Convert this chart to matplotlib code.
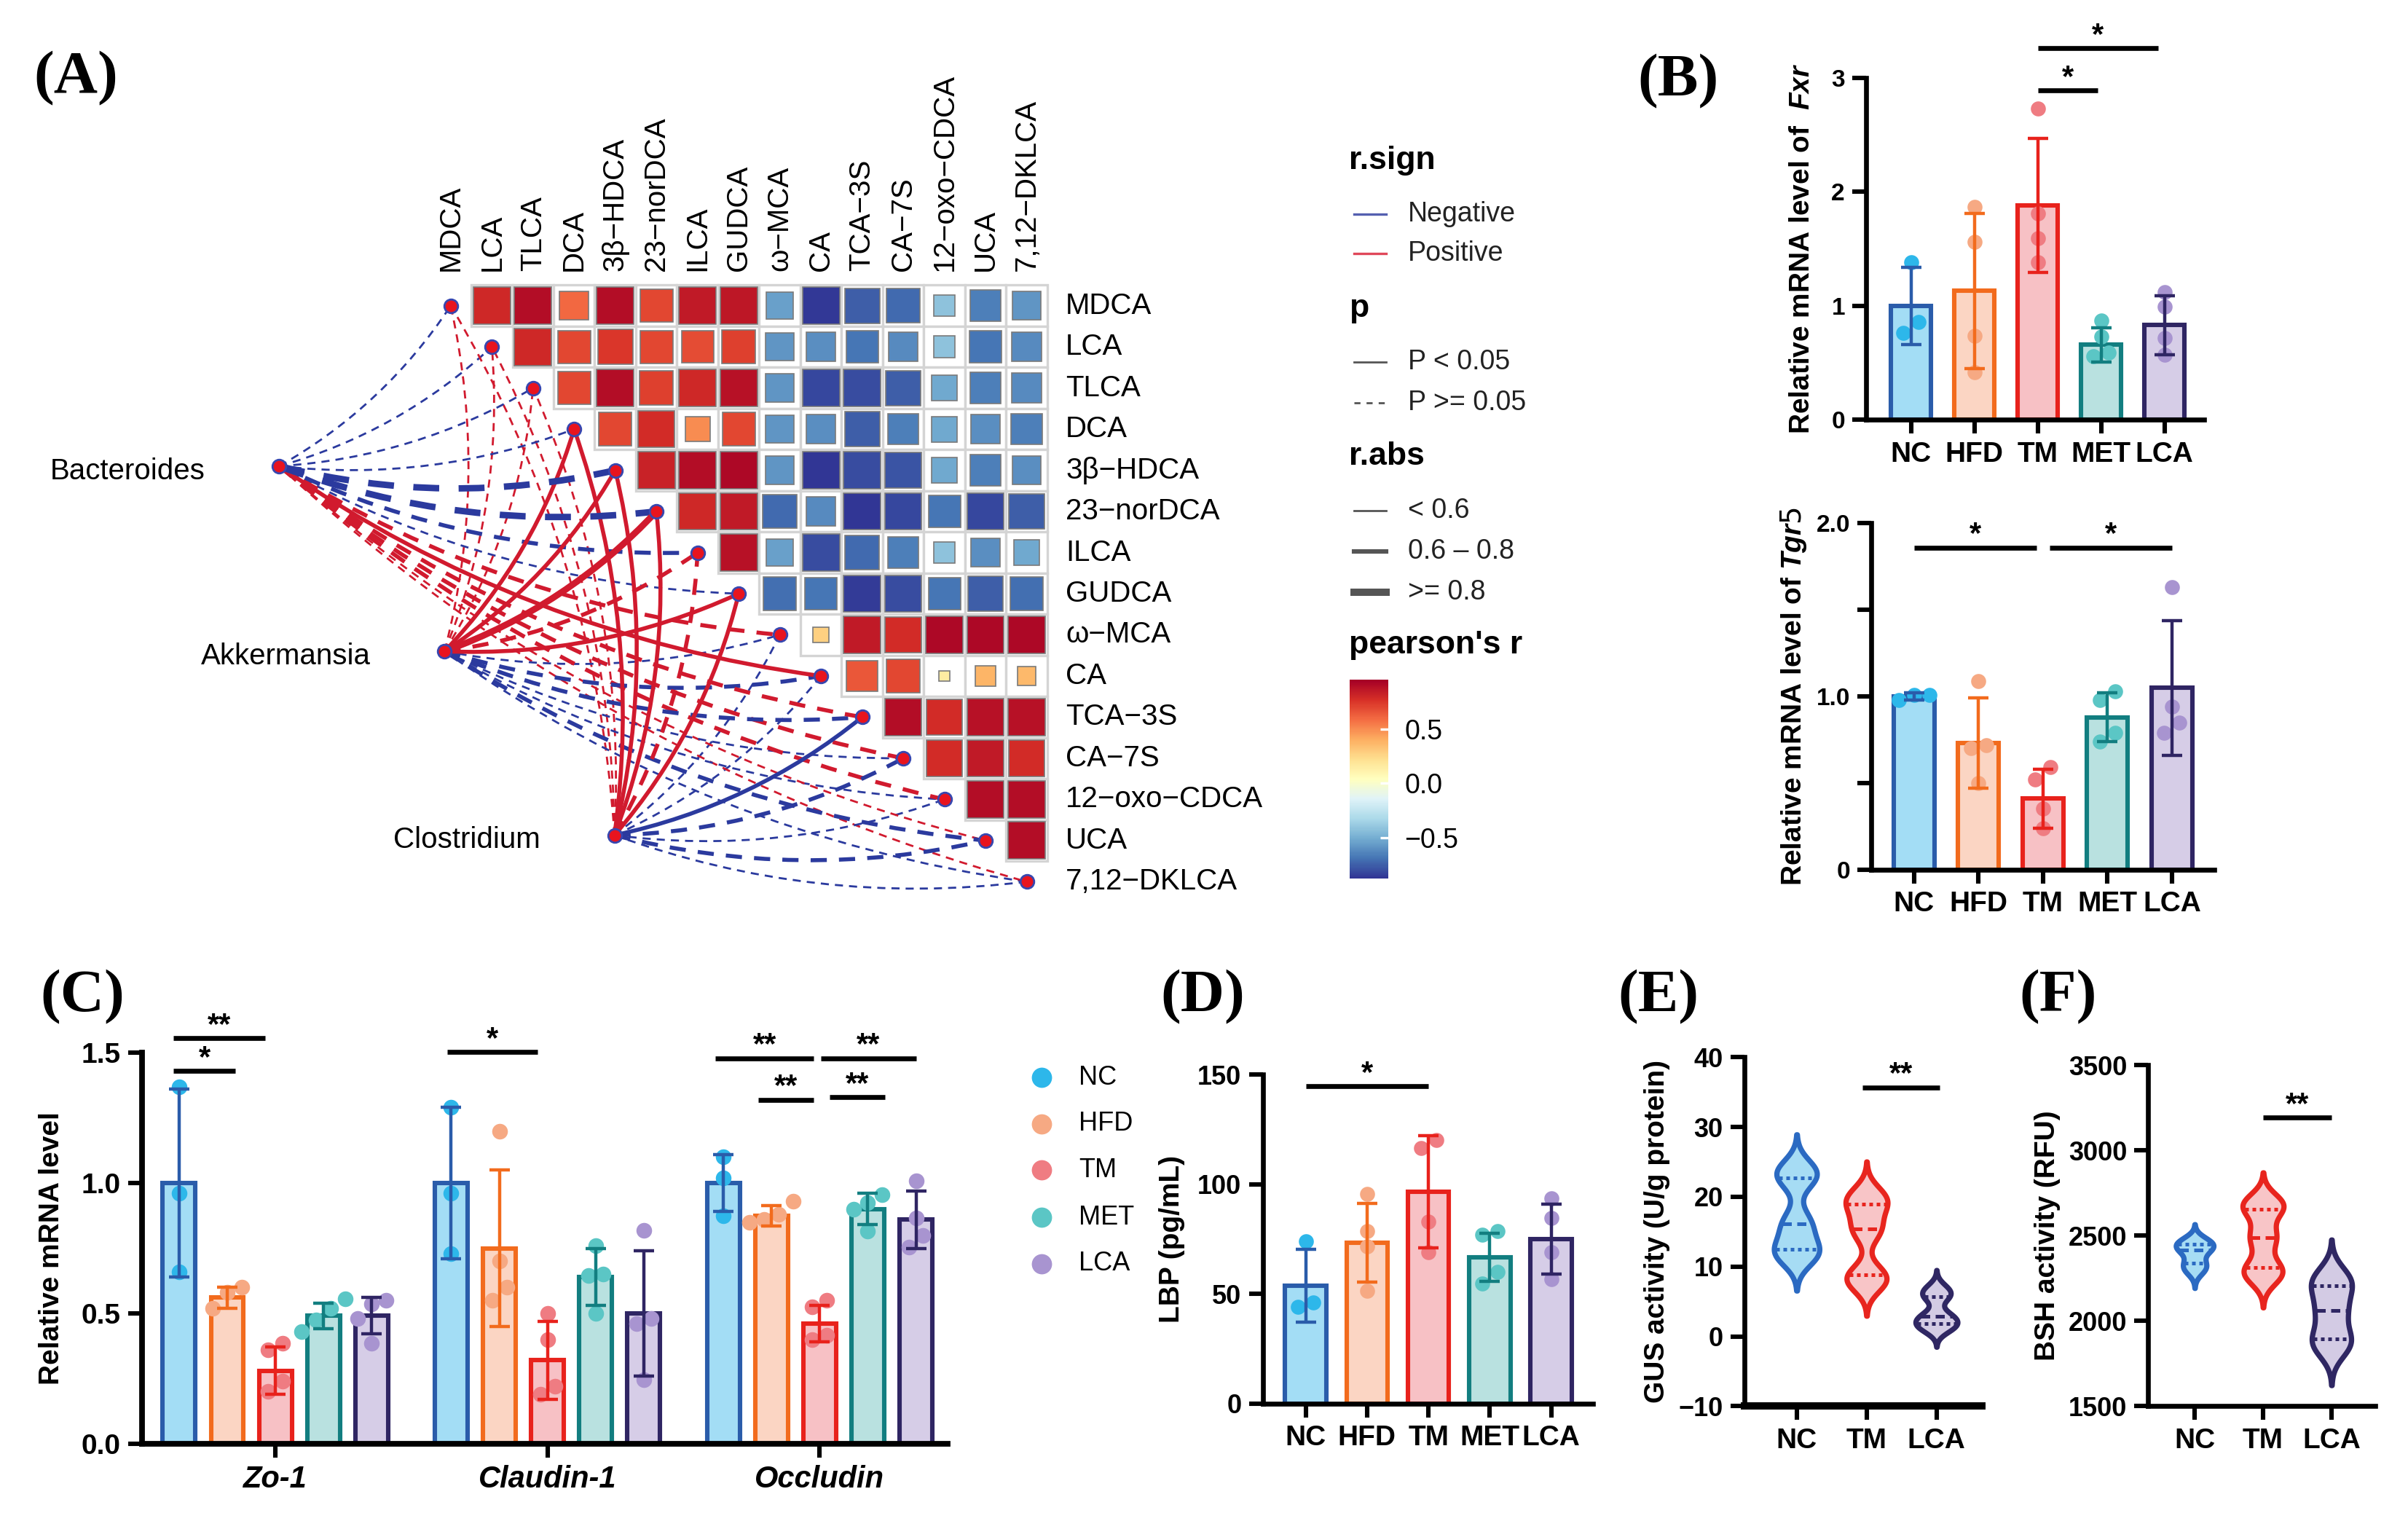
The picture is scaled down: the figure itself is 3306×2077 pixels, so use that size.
import numpy as np
import matplotlib
matplotlib.use("Agg")
import matplotlib.pyplot as plt
from matplotlib import mlab
from matplotlib.patches import Rectangle, FancyArrowPatch
from matplotlib.lines import Line2D
from matplotlib.colors import Normalize
from matplotlib.cm import ScalarMappable

plt.rcParams['font.family'] = ['Liberation Sans', 'DejaVu Sans']
plt.rcParams['mathtext.fontset'] = 'custom'
plt.rcParams['mathtext.it'] = 'Liberation Sans:italic:bold'

# ---------------- data ----------------
acids = ["MDCA", "LCA", "TLCA", "DCA", "3β-HDCA", "23-norDCA", "ILCA", "GUDCA",
         "ω-MCA", "CA", "TCA-3S", "CA-7S", "12-oxo-CDCA", "UCA", "7,12-DKLCA"]
# upper triangle of pearson's r: row i holds columns i+1 .. 14
acid_r = [
    [0.80, 0.90, 0.60, 0.90, 0.70, 0.85, 0.86, -0.55, -0.86, -0.75, -0.72, -0.42, -0.65, -0.58],
    [0.80, 0.70, 0.75, 0.70, 0.68, 0.72, -0.58, -0.60, -0.68, -0.62, -0.42, -0.68, -0.62],
    [0.70, 0.90, 0.72, 0.80, 0.88, -0.58, -0.82, -0.80, -0.75, -0.52, -0.65, -0.62],
    [0.70, 0.78, 0.50, 0.70, -0.58, -0.60, -0.75, -0.65, -0.52, -0.60, -0.65],
    [0.82, 0.90, 0.92, -0.58, -0.88, -0.80, -0.78, -0.52, -0.65, -0.60],
    [0.80, 0.85, -0.72, -0.62, -0.95, -0.82, -0.68, -0.82, -0.75],
    [0.88, -0.55, -0.80, -0.72, -0.65, -0.42, -0.60, -0.52],
    [-0.70, -0.68, -0.85, -0.80, -0.68, -0.75, -0.70],
    [0.28, 0.85, 0.78, 0.92, 0.92, 0.92],
    [0.65, 0.70, 0.15, 0.38, 0.36],
    [0.90, 0.78, 0.88, 0.88],
    [0.78, 0.85, 0.78],
    [0.90, 0.90],
    [0.90],
]

microbes = ["Bacteroides", "Akkermansia", "Clostridium"]
bact_r = [-0.40, -0.40, -0.42, -0.45, -0.85, -0.82, -0.70, -0.45, 0.65, 0.66, 0.72, 0.62, 0.60, 0.55, 0.50]
bact_p = [0.40, 0.35, 0.30, 0.25, 0.07, 0.08, 0.12, 0.30, 0.15, 0.02, 0.09, 0.20, 0.30, 0.30, 0.35]
akk_r = [0.42, 0.42, 0.45, 0.72, 0.75, 0.85, 0.62, 0.68, -0.50, -0.60, -0.62, -0.55, -0.50, -0.60, -0.48]
akk_p = [0.30, 0.30, 0.28, 0.03, 0.02, 0.01, 0.08, 0.04, 0.20, 0.22, 0.18, 0.20, 0.30, 0.20, 0.25]
clos_r = [0.40, 0.42, 0.45, 0.75, 0.70, 0.72, 0.65, 0.62, -0.45, -0.45, -0.62, -0.70, -0.50, -0.75, -0.45]
clos_p = [0.30, 0.30, 0.30, 0.02, 0.03, 0.02, 0.07, 0.04, 0.25, 0.25, 0.04, 0.09, 0.20, 0.08, 0.30]

groups = ["NC", "HFD", "TM", "MET", "LCA"]

fxr_mean = [1.00, 1.13, 1.88, 0.66, 0.83]
fxr_sd = [0.34, 0.68, 0.59, 0.15, 0.26]
fxr_pts = [[1.38, 0.76, 0.86], [1.87, 1.56, 0.74, 0.42], [2.73, 1.81, 1.59, 1.38],
           [0.87, 0.73, 0.59, 0.56], [1.12, 0.99, 0.72, 0.57]]

tgr5_mean = [1.00, 0.73, 0.41, 0.88, 1.05]
tgr5_sd = [0.02, 0.26, 0.17, 0.14, 0.39]
tgr5_pts = [[0.98, 1.01, 1.01], [1.09, 0.72, 0.70, 0.50], [0.59, 0.52, 0.35, 0.24],
            [1.03, 0.98, 0.79, 0.74], [1.63, 0.94, 0.85, 0.79]]

genes = ["Zo-1", "Claudin-1", "Occludin"]
zo1_mean = [1.00, 0.56, 0.28, 0.49, 0.49]
zo1_sd = [0.36, 0.04, 0.09, 0.05, 0.07]
zo1_pts = [[1.37, 0.96, 0.66], [0.60, 0.58, 0.52], [0.385, 0.36, 0.24, 0.20],
           [0.555, 0.52, 0.475, 0.43], [0.55, 0.535, 0.48, 0.385]]
cld_mean = [1.00, 0.75, 0.32, 0.64, 0.50]
cld_sd = [0.29, 0.30, 0.15, 0.11, 0.24]
cld_pts = [[1.29, 0.96, 0.73], [1.20, 0.70, 0.60, 0.55], [0.50, 0.40, 0.22, 0.19],
           [0.76, 0.65, 0.645, 0.50], [0.82, 0.48, 0.46, 0.245]]
occ_mean = [1.00, 0.875, 0.46, 0.90, 0.86]
occ_sd = [0.11, 0.04, 0.07, 0.06, 0.11]
occ_pts = [[1.10, 1.02, 0.875], [0.93, 0.88, 0.86, 0.85], [0.55, 0.525, 0.415, 0.40],
           [0.955, 0.925, 0.90, 0.815], [1.01, 0.865, 0.80, 0.755]]

lbp_mean = [53.8, 73.2, 96.5, 66.7, 75.0]
lbp_sd = [16.6, 18.0, 25.5, 11.0, 16.0]
lbp_pts = [[74.1, 45.9, 44.1], [95.6, 78.5, 71.5, 51.2], [120.0, 116.5, 83.0, 68.8],
           [78.5, 76.8, 60.0, 54.7], [93.5, 84.7, 68.8, 56.5]]

vgroups = ["NC", "TM", "LCA"]
gus_nc = [11.5, 12.0, 12.6, 15.5, 16.7, 22.5, 23.3, 24.0]
gus_tm = [7.5, 8.3, 9.0, 14.8, 16.0, 18.8, 19.3, 20.5]
gus_lca = [1.0, 1.5, 2.0, 2.6, 3.2, 5.6, 6.1, 7.0]
bsh_nc = [2290, 2320, 2345, 2410, 2420, 2445, 2460, 2470]
bsh_tm = [2250, 2290, 2320, 2460, 2520, 2650, 2680, 2700]
bsh_lca = [1840, 1880, 1900, 2040, 2080, 2200, 2230, 2260]

# ---------------- style ----------------
edge_c = {"NC": "#2A5CAA", "HFD": "#F26B1D", "TM": "#E8221C", "MET": "#127E80", "LCA": "#2F2563"}
fill_c = {"NC": "#A3DDF5", "HFD": "#FBD5C3", "TM": "#F7C1C5", "MET": "#B9E1E0", "LCA": "#D6CDE7"}
dot_c = {"NC": "#2DB7EA", "HFD": "#F6A983", "TM": "#EF7C82", "MET": "#5BC6C5", "LCA": "#A894D0"}
vedge_c = {"NC": "#2B6AC2", "TM": "#E8251E", "LCA": "#2F2763"}
vfill_c = {"NC": "#A6DCF4", "TM": "#F8C5C7", "LCA": "#D3CBE4"}
RED, BLUE = "#D11A2E", "#2B3A9E"

W, H = 1560.0, 980.0


def box(l, t, r, b):
    return [l / W, 1 - b / H, (r - l) / W, (b - t) / H]


def fx(x):
    return x / W


def fy(y):
    return 1 - y / H


fig = plt.figure(figsize=(16.53, 10.385), dpi=200)

# ---------------- panel A ----------------
x0, y0, unit = 292.0, 198.0, 26.65
L, T, R, B = 0, 80, 840, 612
ax_a = fig.add_axes(box(L, T, R, B))
ax_a.set_xlim((L - x0) / unit, (R - x0) / unit)
ax_a.set_ylim((B - y0) / unit, (T - y0) / unit)
ax_a.axis('off')

cmap = plt.get_cmap('RdYlBu_r')
norm = Normalize(-0.87, 0.95)
n = len(acids)
for i, row in enumerate(acid_r):
    for k, r in enumerate(row):
        j = i + 1 + k
        ax_a.add_patch(Rectangle((j - 0.5, i - 0.5), 1, 1, facecolor='white',
                                 edgecolor='#D4D4D4', lw=1.2, zorder=1))
        f = min(0.9, 0.1 + abs(r))
        ax_a.add_patch(Rectangle((j - f / 2, i - f / 2), f, f, facecolor=cmap(norm(r)),
                                 edgecolor='#7A7A7A', lw=0.6, zorder=2))

for j, name in enumerate(acids):
    lab = name.replace('-', '\u2212')
    ax_a.text(j, -0.85, lab, rotation=90, ha='center', va='bottom', fontsize=14.5)
    ax_a.text(n - 0.5 + 0.45, j, lab, ha='left', va='center', fontsize=14.5)

node_xy = [(-4.17, 3.9), (-0.15, 8.4), (3.98, 12.87)]
links = []
for (mx, my), rs, ps in zip(node_xy, [bact_r, akk_r, clos_r], [bact_p, akk_p, clos_p]):
    for j, (r, p) in enumerate(zip(rs, ps)):
        links.append((abs(r), mx, my, j, r, p))
links.sort(key=lambda t: t[0])
for a, mx, my, j, r, p in links:
    lw = 1.0 if a < 0.6 else (2.0 if a < 0.8 else 3.2)
    ls = '-' if p < 0.05 else (0, (4, 3))
    patch = FancyArrowPatch((mx, my), (j, j), arrowstyle='-', connectionstyle='arc3,rad=0.12',
                            color=RED if r > 0 else BLUE, lw=lw, linestyle=ls,
                            shrinkA=0, shrinkB=0, zorder=3, transform=ax_a.transData)
    patch.set_capstyle('butt')
    ax_a.add_patch(patch)

ax_a.scatter(range(n), range(n), s=45, color='#E8141E', edgecolors='#3747B0', linewidths=1.0, zorder=5)
ax_a.scatter([p[0] for p in node_xy], [p[1] for p in node_xy], s=45, color='#E8141E',
             edgecolors='#3747B0', linewidths=1.0, zorder=5)
for (mx, my), name in zip(node_xy, microbes):
    ax_a.text(mx - 1.8, my + 0.12, name, ha='right', va='center', fontsize=14.5)

# legend of panel A
def leg_title(y, s):
    fig.text(fx(874), fy(y), s, fontsize=16, fontweight='bold', va='center')


def leg_item(y, s, color, lw, ls='-'):
    fig.add_artist(Line2D([fx(877), fx(898)], [fy(y), fy(y)], transform=fig.transFigure,
                          color=color, lw=lw, ls=ls))
    fig.text(fx(912), fy(y), s, fontsize=13.5, va='center', color='#222222')


leg_title(104, 'r.sign')
leg_item(138.7, 'Negative', '#5560B0', 1.2)
leg_item(164.4, 'Positive', '#E0485A', 1.2)
leg_title(200, 'p')
leg_item(234.3, 'P < 0.05', '#555555', 1.0)
leg_item(260.8, 'P >= 0.05', '#555555', 1.0, (0, (3, 3)))
leg_title(295.5, 'r.abs')
leg_item(330.8, '< 0.6', '#555555', 1.0)
leg_item(357.2, '0.6 \u2013 0.8', '#555555', 2.2)
leg_item(383.7, '>= 0.8', '#555555', 3.6)
leg_title(417.7, "pearson's r")

cax = fig.add_axes(box(874.5, 440.4, 899.5, 568.8))
cb = fig.colorbar(ScalarMappable(norm=norm, cmap=cmap), cax=cax, ticks=[-0.5, 0.0, 0.5])
cb.outline.set_visible(False)
cb.ax.set_yticklabels(['\u22120.5', '0.0', '0.5'])
cax.tick_params(length=4, width=1.2, color='white', direction='in', labelsize=13.5, pad=8)

# ---------------- helpers for bar panels ----------------
def spread(vals, tol, step):
    vals = np.asarray(vals, float)
    offs = np.zeros(len(vals))
    order = np.argsort(vals)
    clusters, cur = [], [order[0]]
    for a, b in zip(order[:-1], order[1:]):
        if vals[b] - vals[a] < tol:
            cur.append(b)
        else:
            clusters.append(cur)
            cur = [b]
    clusters.append(cur)
    for c in clusters:
        offs[c] = (np.arange(len(c)) - (len(c) - 1) / 2) * step
    return offs


def style_axis(ax, lw=2.4):
    for s in ['top', 'right']:
        ax.spines[s].set_visible(False)
    for s in ['left', 'bottom']:
        ax.spines[s].set_linewidth(lw)
    ax.tick_params(which='both', width=2.2, length=7)


def bold_ticks(ax, size_x=14, size_y=13):
    for lab in ax.get_xticklabels():
        lab.set_fontweight('bold')
        lab.set_fontsize(size_x)
    for lab in ax.get_yticklabels():
        lab.set_fontweight('bold')
        lab.set_fontsize(size_y)


def bars(ax, xs, means, sds, pts, width, tol, step, ms=55):
    for x, m, s, p, g in zip(xs, means, sds, pts, groups):
        ax.bar(x, m, width=width, color=fill_c[g], edgecolor=edge_c[g], linewidth=2.2, zorder=1)
        ax.scatter(x + spread(p, tol, step), p, s=ms, color=dot_c[g], linewidths=0, zorder=2)
        ax.errorbar(x, m, yerr=s, fmt='none', ecolor=edge_c[g], elinewidth=1.6,
                    capsize=5, capthick=1.6, zorder=3)


def sig(ax, x1, x2, y, label, fs=15):
    ax.plot([x1, x2], [y, y], color='black', lw=2.4, clip_on=False, solid_capstyle='butt')
    ax.annotate(label, xy=((x1 + x2) / 2, y), xytext=(0, -1), textcoords='offset points',
                ha='center', va='bottom', fontsize=fs, fontweight='bold', annotation_clip=False)


def violins(ax, datasets, factors, widths, cut=2.6):
    stats = []
    for d, f in zip(datasets, factors):
        d = np.asarray(d, float)
        kde = mlab.GaussianKDE(d, f)
        bw = f * d.std(ddof=1)
        coords = np.linspace(d.min() - cut * bw, d.max() + cut * bw, 400)
        stats.append(dict(coords=coords, vals=kde.evaluate(coords), mean=d.mean(),
                          median=np.median(d), min=coords[0], max=coords[-1]))
    parts = ax.violin(stats, positions=range(len(stats)), widths=widths,
                      showmeans=False, showextrema=False, showmedians=False)
    for pos, (body, st, w, d, g) in enumerate(zip(parts['bodies'], stats, widths, datasets, vgroups)):
        body.set_facecolor(vfill_c[g])
        body.set_edgecolor(vedge_c[g])
        body.set_alpha(1)
        body.set_linewidth(2.6)
        for q, ls in zip(np.percentile(d, [25, 50, 75]), [(0, (1, 1)), (0, (2.5, 1.5)), (0, (1, 1))]):
            half = 0.5 * w * np.interp(q, st['coords'], st['vals']) / st['vals'].max()
            ax.plot([pos - half * 0.92, pos + half * 0.92], [q, q], ls=ls, color=vedge_c[g], lw=1.8)


# ---------------- panel B ----------------
ax_fxr = fig.add_axes(box(1209, 50.3, 1428, 272))
xb = np.arange(5)
bars(ax_fxr, xb, fxr_mean, fxr_sd, fxr_pts, 0.63, 0.13, 0.24)
ax_fxr.set_xlim(-0.71, 4.63)
ax_fxr.set_ylim(0, 3)
ax_fxr.set_yticks([0, 1, 2, 3])
ax_fxr.set_xticks(xb)
ax_fxr.set_xticklabels(groups)
style_axis(ax_fxr)
bold_ticks(ax_fxr, 14, 12)
ax_fxr.set_ylabel('Relative mRNA level of  $\\mathit{Fxr}$', fontsize=14, fontweight='bold', labelpad=8)
sig(ax_fxr, 2.0, 2.95, 2.89, '*')
sig(ax_fxr, 2.0, 3.9, 3.26, '*')

ax_tgr = fig.add_axes(box(1212.4, 339, 1434.6, 563.2))
bars(ax_tgr, xb, tgr5_mean, tgr5_sd, tgr5_pts, 0.63, 0.07, 0.24)
ax_tgr.set_xlim(-0.66, 4.66)
ax_tgr.set_ylim(0, 2)
ax_tgr.set_yticks([0, 1.0, 2.0])
ax_tgr.set_yticklabels(['0', '1.0', '2.0'])
ax_tgr.set_yticks([0.5, 1.5], minor=True)
ax_tgr.set_xticks(xb)
ax_tgr.set_xticklabels(groups)
style_axis(ax_tgr)
bold_ticks(ax_tgr, 14, 12)
ax_tgr.set_ylabel('Relative mRNA level of $\\mathit{Tgr5}$', fontsize=14, fontweight='bold', labelpad=4)
sig(ax_tgr, 0.0, 1.9, 1.86, '*')
sig(ax_tgr, 2.1, 4.0, 1.86, '*')

# ---------------- panel C ----------------
ax_c = fig.add_axes(box(92, 682, 614, 935))
gap = 5.65
for g, (m, s, p) in enumerate([(zo1_mean, zo1_sd, zo1_pts), (cld_mean, cld_sd, cld_pts),
                               (occ_mean, occ_sd, occ_pts)]):
    bars(ax_c, g * gap + xb, m, s, p, 0.68, 0.06, 0.3, ms=60)
ax_c.set_xlim(-0.77, 15.96)
ax_c.set_ylim(0, 1.5)
ax_c.set_yticks([0, 0.5, 1.0, 1.5])
ax_c.set_yticklabels(['0.0', '0.5', '1.0', '1.5'])
ax_c.set_xticks([g * gap + 2 for g in range(3)])
ax_c.set_xticklabels(genes)
style_axis(ax_c, 2.8)
bold_ticks(ax_c, 15, 14)
for lab in ax_c.get_xticklabels():
    lab.set_fontstyle('italic')
ax_c.set_ylabel('Relative mRNA level', fontsize=14, fontweight='bold', labelpad=8)
sig(ax_c, -0.12, 1.17, 1.43, '*')
sig(ax_c, -0.12, 1.79, 1.556, '**')
sig(ax_c, gap - 0.08, gap + 1.79, 1.504, '*')
sig(ax_c, 2 * gap - 0.16, 2 * gap + 1.87, 1.48, '**')
sig(ax_c, 2 * gap + 2.02, 2 * gap + 4.0, 1.48, '**')
sig(ax_c, 2 * gap + 0.73, 2 * gap + 1.87, 1.32, '**')
sig(ax_c, 2 * gap + 2.21, 2 * gap + 3.35, 1.33, '**')

for g, y in zip(groups, [698, 728, 758, 788.6, 818.6]):
    fig.add_artist(Line2D([fx(675)], [fy(y)], transform=fig.transFigure, marker='o', ms=9,
                          ls='none', color=dot_c[g]))
    fig.text(fx(699), fy(y), g, fontsize=13, va='center')

# ---------------- panel D ----------------
ax_d = fig.add_axes(box(818, 696, 1032, 909))
bars(ax_d, xb, lbp_mean, lbp_sd, lbp_pts, 0.67, 6.0, 0.25)
ax_d.set_xlim(-0.70, 4.68)
ax_d.set_ylim(0, 150)
ax_d.set_yticks([0, 50, 100, 150])
ax_d.set_xticks(xb)
ax_d.set_xticklabels(groups)
style_axis(ax_d)
bold_ticks(ax_d, 14, 13)
ax_d.set_ylabel('LBP (pg/mL)', fontsize=14, fontweight='bold', labelpad=6)
sig(ax_d, 0.0, 2.0, 144.7, '*')

# ---------------- panel E ----------------
ax_e = fig.add_axes(box(1130, 684.8, 1284, 910.8))
violins(ax_e, [gus_nc, gus_tm, gus_lca], [0.36, 0.33, 0.42], [0.65, 0.6, 0.6])
ax_e.set_xlim(-0.75, 2.65)
ax_e.set_ylim(-10, 40)
ax_e.set_yticks([-10, 0, 10, 20, 30, 40])
ax_e.set_xticks([0, 1, 2])
ax_e.set_xticklabels(vgroups)
style_axis(ax_e)
ax_e.spines['bottom'].set_linewidth(3.6)
bold_ticks(ax_e, 14, 13)
ax_e.set_ylabel('GUS activity (U/g protein)', fontsize=14, fontweight='bold', labelpad=4)
sig(ax_e, 0.94, 2.04, 35.7, '**')

# ---------------- panel F ----------------
ax_f = fig.add_axes(box(1391.7, 690, 1538.8, 910.8))
violins(ax_f, [bsh_nc, bsh_tm, bsh_lca], [0.55, 0.36, 0.5], [0.55, 0.6, 0.6])
ax_f.set_xlim(-0.68, 2.64)
ax_f.set_ylim(1500, 3500)
ax_f.set_yticks([1500, 2000, 2500, 3000, 3500])
ax_f.set_xticks([0, 1, 2])
ax_f.set_xticklabels(vgroups)
style_axis(ax_f)
bold_ticks(ax_f, 14, 13)
ax_f.set_ylabel('BSH activity (RFU)', fontsize=14, fontweight='bold', labelpad=4)
sig(ax_f, 1.0, 2.0, 3194, '**')

# ---------------- panel labels ----------------
for s, x, y in [('(A)', 22, 51), ('(B)', 1061, 53), ('(C)', 26, 646),
                ('(D)', 752, 646), ('(E)', 1048, 646), ('(F)', 1308, 646)]:
    fig.text(fx(x), fy(y), s, fontsize=30, fontweight='bold', family='Liberation Serif',
             ha='left', va='center')

fig.savefig('out.png', dpi=200)
